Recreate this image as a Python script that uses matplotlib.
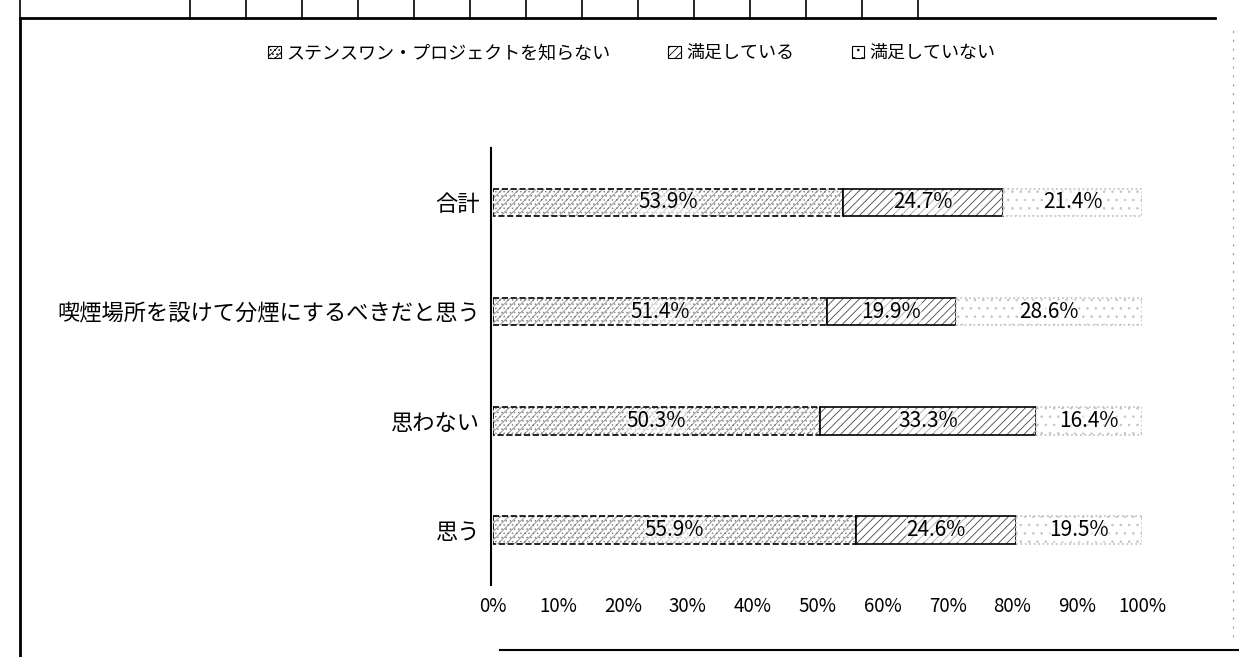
import matplotlib
matplotlib.use("Agg")
import matplotlib.pyplot as plt
import numpy as np
from matplotlib.lines import Line2D
from matplotlib.patches import Patch

plt.rcParams["font.family"] = ["Noto Sans CJK JP", "DejaVu Sans"]
plt.rcParams["hatch.linewidth"] = 0.6

categories = ["合計", "喫煙場所を設けて分煙にするべきだと思う", "思わない", "思う"]
series_names = ["ステンスワン・プロジェクトを知らない", "満足している", "満足していない"]
not_aware = [53.9, 51.4, 50.3, 55.9]
satisfied = [24.7, 19.9, 33.3, 24.6]
not_satisfied = [21.4, 28.6, 16.4, 19.5]
x_ticks = [0, 10, 20, 30, 40, 50, 60, 70, 80, 90, 100]

# fill / hatch / edge per series, mimicking the scanned monochrome print
styles = [
    dict(hatch="////....", hatch_color="#8a8a8a", edge="black", ls="--"),
    dict(hatch="////", hatch_color="#444444", edge="black", ls="-"),
    dict(hatch="..", hatch_color="#c4c4c4", edge="#bdbdbd", ls=":"),
]

fig = plt.figure(figsize=(12.39, 6.57), dpi=100)
ax = fig.add_axes([0.398, 0.110, 0.524, 0.665])
for side in ["top", "right", "bottom"]:
    ax.spines[side].set_visible(False)
ax.spines["left"].set_position(("data", -0.3))
ax.spines["left"].set_linewidth(1.5)

y = np.arange(len(categories))
bar_h = 0.25
left = np.zeros(len(categories))
for values, st in zip([not_aware, satisfied, not_satisfied], styles):
    vals = np.array(values)
    ax.barh(y, vals, left=left, height=bar_h, color="white",
            edgecolor=st["hatch_color"], hatch=st["hatch"], linewidth=0)
    ax.barh(y, vals, left=left, height=bar_h, fill=False,
            edgecolor=st["edge"], linewidth=1.2, linestyle=st["ls"])
    for yi, l, v in zip(y, left, vals):
        ax.text(l + v / 2, yi, f"{v:.1f}%", ha="center", va="center",
                fontsize=15, color="black",
                bbox=dict(facecolor="white", edgecolor="none", pad=0.5, alpha=0.55))
    left += vals

ax.set_xlim(0, 100)
ax.set_ylim(len(categories) - 0.5, -0.5)
ax.set_yticks(y)
ax.set_yticklabels(categories, fontsize=16)
ax.set_xticks(x_ticks)
ax.set_xticklabels([f"{t}%" for t in x_ticks], fontsize=13.5)
ax.tick_params(axis="both", length=0, pad=8)

handles = [
    Patch(facecolor="white", edgecolor="black", hatch=st["hatch"], linewidth=0.8)
    for st in styles
]
fig.legend(handles, series_names, loc="center", bbox_to_anchor=(0.510, 0.919),
           ncol=3, frameon=False, fontsize=13, handlelength=0.7,
           handleheight=0.7, handletextpad=0.3, columnspacing=3.2)

# scanned page frame: left border, table row at top, bottom rule
W, H = 1239, 657
fig.add_artist(Line2D([20 / W, 20 / W], [0, 1 - 18 / H], color="black", lw=2))
fig.add_artist(Line2D([20 / W, 1215 / W], [1 - 18 / H, 1 - 18 / H], color="black", lw=2))
for xc in [20] + list(range(190, 930, 56)):
    fig.add_artist(Line2D([xc / W, xc / W], [1 - 18 / H, 1], color="black", lw=1.2))
fig.add_artist(Line2D([500 / W, 1], [7 / H, 7 / H], color="black", lw=1.5))
fig.add_artist(Line2D([1233 / W, 1233 / W], [20 / H, 1 - 25 / H], color="#999999",
                      lw=0.8, ls=(0, (2, 6))))

fig.savefig("out.png", dpi=100)
